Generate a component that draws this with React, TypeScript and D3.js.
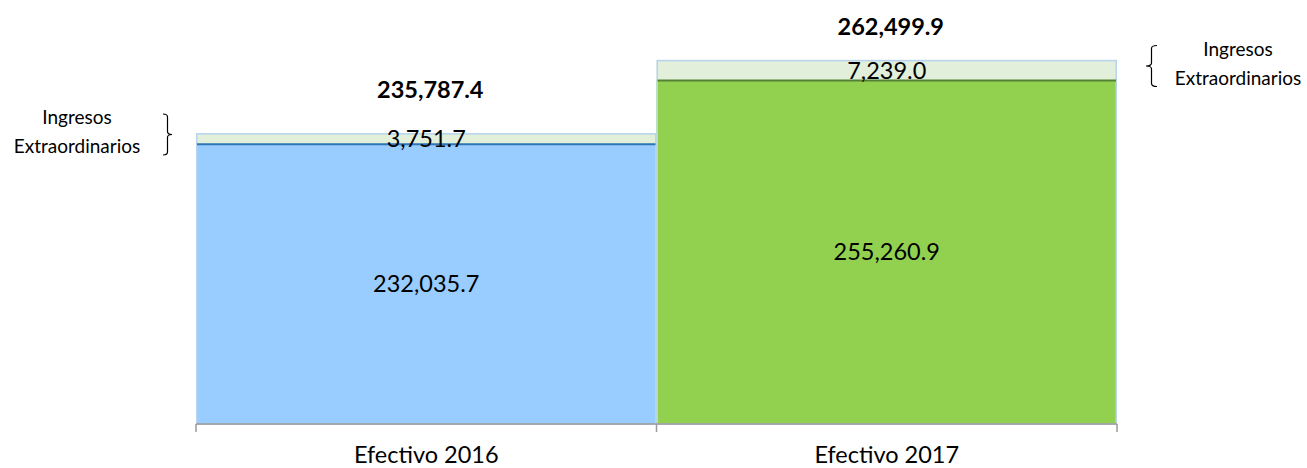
import React, { useEffect, useRef } from 'react'
import * as d3 from 'd3'

// values
const categories = ['Efectivo 2016', 'Efectivo 2017']
const ordinarios = [232035.7, 255260.9]
const extraordinarios = [3751.7, 7239.0]
const totals = [235787.4, 262499.9]
const noteLines = ['Ingresos', 'Extraordinarios']
const yDomain = [130000, 270000]

const baseColors = ['#99CCFF', '#92D050']
const sepColors = ['#2E75B6', '#548235']
const extraColor = '#E2EFDA'
const edgeColor = '#B7D3EE'

const W = 1307
const H = 468
const font = 'Lato, "Open Sans", sans-serif'

export default function App() {
  const ref = useRef<SVGSVGElement | null>(null)

  useEffect(() => {
    const svg = d3.select(ref.current)
    svg.selectAll('*').remove()

    const x = d3.scaleBand<string>().domain(categories).range([196, 1117]).padding(0)
    const y = d3.scaleLinear().domain(yDomain).range([424, 40])
    const fmt = d3.format(',.1f')
    const bw = x.bandwidth()

    const rows = categories.map((c, i) => ({
      cat: c, i, base: ordinarios[i], extra: extraordinarios[i], total: totals[i]
    }))

    const g = svg.append('g')

    // ordinary part
    g.selectAll('rect.base').data(rows).enter().append('rect')
      .attr('class', 'base')
      .attr('x', d => x(d.cat)!)
      .attr('width', bw)
      .attr('y', d => y(d.base))
      .attr('height', d => y(yDomain[0]) - y(d.base))
      .attr('fill', d => baseColors[d.i])

    // extraordinary part
    g.selectAll('rect.extra').data(rows).enter().append('rect')
      .attr('class', 'extra')
      .attr('x', d => x(d.cat)!)
      .attr('width', bw)
      .attr('y', d => y(d.base + d.extra))
      .attr('height', d => y(d.base) - y(d.base + d.extra))
      .attr('fill', extraColor)

    // light outline round each bar
    g.selectAll('rect.edge').data(rows).enter().append('rect')
      .attr('x', d => x(d.cat)! + 0.75)
      .attr('width', bw - 1.5)
      .attr('y', d => y(d.base + d.extra))
      .attr('height', d => y(yDomain[0]) - y(d.base + d.extra))
      .attr('fill', 'none')
      .attr('stroke', edgeColor)
      .attr('stroke-width', 1.5)

    // darker line between the two parts
    g.selectAll('line.sep').data(rows).enter().append('line')
      .attr('x1', d => x(d.cat)! + 1)
      .attr('x2', d => x(d.cat)! + bw - 1)
      .attr('y1', d => y(d.base))
      .attr('y2', d => y(d.base))
      .attr('stroke', d => sepColors[d.i])
      .attr('stroke-width', 2)

    // axis
    const axisY = y(yDomain[0])
    g.append('line')
      .attr('x1', 196).attr('x2', 1117)
      .attr('y1', axisY).attr('y2', axisY)
      .attr('stroke', '#9A9A9A').attr('stroke-width', 1.5)
    const tickXs = categories.map(c => x(c)!).concat([x(categories[categories.length - 1])! + bw])
    g.selectAll('line.tick').data(tickXs).enter().append('line')
      .attr('x1', d => d).attr('x2', d => d)
      .attr('y1', axisY).attr('y2', axisY + 8)
      .attr('stroke', '#9A9A9A').attr('stroke-width', 1.5)

    g.selectAll('text.cat').data(rows).enter().append('text')
      .attr('x', d => x(d.cat)! + bw / 2)
      .attr('y', axisY + 39)
      .attr('text-anchor', 'middle')
      .attr('font-family', font)
      .attr('font-size', 23.5)
      .attr('fill', '#000')
      .text(d => d.cat)

    // value labels
    g.selectAll('text.baseLbl').data(rows).enter().append('text')
      .attr('x', d => x(d.cat)! + bw / 2)
      .attr('y', d => (y(d.base) + axisY) / 2 + 8)
      .attr('text-anchor', 'middle')
      .attr('font-family', font)
      .attr('font-size', 23.5)
      .text(d => fmt(d.base))

    g.selectAll('text.extraLbl').data(rows).enter().append('text')
      .attr('x', d => x(d.cat)! + bw / 2)
      .attr('y', d => (y(d.base) + y(d.base + d.extra)) / 2 + 8.5)
      .attr('text-anchor', 'middle')
      .attr('font-family', font)
      .attr('font-size', 23.5)
      .text(d => fmt(d.extra))

    const totalLift = [36, 26]
    g.selectAll('text.totalLbl').data(rows).enter().append('text')
      .attr('x', d => x(d.cat)! + bw / 2 + 4)
      .attr('y', d => y(d.total) - totalLift[d.i])
      .attr('text-anchor', 'middle')
      .attr('font-family', font)
      .attr('font-size', 23.5)
      .attr('font-weight', 'bold')
      .text(d => fmt(d.total))

    // braces with the "Ingresos Extraordinarios" note
    const brace = (x0: number, tipX: number, y0: number, y1: number) => {
      const ym = (y0 + y1) / 2
      const xm = (x0 + tipX) / 2
      return `M${x0},${y0} Q${xm},${y0} ${xm},${y0 + 3} V${ym - 3} Q${xm},${ym} ${tipX},${ym}` +
        ` Q${xm},${ym} ${xm},${ym + 3} V${y1 - 3} Q${xm},${y1} ${x0},${y1}`
    }

    rows.forEach(d => {
      const mid = (y(d.base) + y(d.base + d.extra)) / 2
      const left = d.i === 0
      const edge = left ? x(d.cat)! : x(d.cat)! + bw
      const x0 = left ? edge - 33 : edge + 40
      const tip = left ? edge - 24 : edge + 29
      g.append('path')
        .attr('d', brace(x0, tip, mid - 25, mid + 16))
        .attr('fill', 'none')
        .attr('stroke', '#000')
        .attr('stroke-width', 1.2)
      const cx = left ? edge - 119 : edge + 121
      noteLines.forEach((t, k) => {
        g.append('text')
          .attr('x', cx)
          .attr('y', k === 0 ? mid - 14.5 : mid + 14.5)
          .attr('text-anchor', 'middle')
          .attr('font-family', font)
          .attr('font-size', 19)
          .text(t)
      })
    })
  }, [])

  return (
    <svg
      ref={ref}
      width={W}
      height={H}
      style={{ position: 'absolute', left: 0, top: 0, background: '#fff' }}
    />
  )
}
